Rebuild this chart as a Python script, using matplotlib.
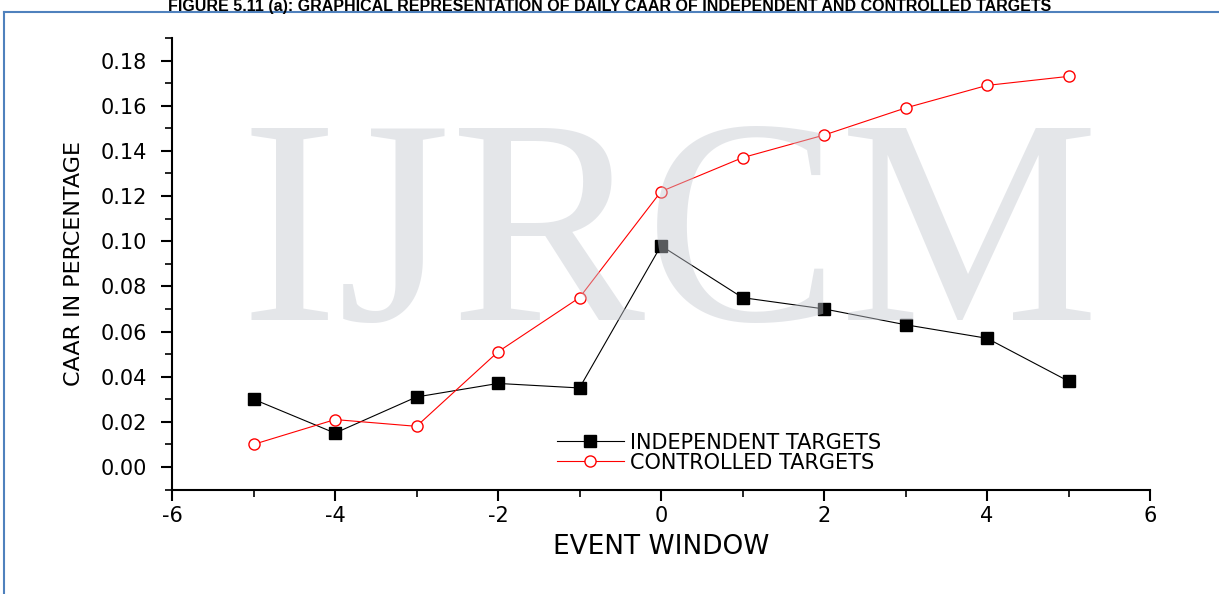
import matplotlib
matplotlib.use("Agg")
import matplotlib.pyplot as plt
from matplotlib.ticker import MultipleLocator, FuncFormatter
from matplotlib.lines import Line2D

event_window = [-5, -4, -3, -2, -1, 0, 1, 2, 3, 4, 5]
independent = [0.030, 0.015, 0.031, 0.037, 0.035, 0.098, 0.075, 0.070, 0.063, 0.057, 0.038]
controlled = [0.010, 0.021, 0.018, 0.051, 0.075, 0.122, 0.137, 0.147, 0.159, 0.169, 0.173]
x_ticks = [-6, -4, -2, 0, 2, 4, 6]
y_ticks = [0.00, 0.02, 0.04, 0.06, 0.08, 0.10, 0.12, 0.14, 0.16, 0.18]

plt.rcParams['font.family'] = ['DejaVu Sans']
plt.rcParams['axes.unicode_minus'] = False

fig = plt.figure(figsize=(12.19, 5.94), dpi=100)
fig.patch.set_facecolor('white')

# page frame (blue border) and title
fig.add_artist(Line2D([4/1219, 4/1219], [0, 1 - 12/594], color='#4f81bd', lw=1.5))
fig.add_artist(Line2D([4/1219, 1], [1 - 12/594, 1 - 12/594], color='#4f81bd', lw=1.5))
fig.text(0.5, 1 - 11/594, "FIGURE 5.11 (a): GRAPHICAL REPRESENTATION OF DAILY CAAR OF INDEPENDENT AND CONTROLLED TARGETS",
         ha='center', va='baseline', fontsize=11.5, fontweight='bold', family='Liberation Sans')

# faint watermark
fig.text(0.55, 0.58, "IJRCM", ha='center', va='center', fontsize=210, family='Liberation Serif',
         color='#c4c8d0', alpha=0.45, zorder=0)

ax = fig.add_axes([172/1219, 1 - 490/594, (1150 - 172)/1219, (490 - 38)/594])
ax.patch.set_alpha(0)
ax.plot(event_window, independent, color='black', lw=0.8, marker='s', markersize=8,
        markerfacecolor='black', markeredgecolor='black', label='INDEPENDENT TARGETS')
ax.plot(event_window, controlled, color='red', lw=0.8, marker='o', markersize=8,
        markerfacecolor='white', markeredgecolor='red', label='CONTROLLED TARGETS')

ax.set_xlim(-6, 6)
ax.set_ylim(-0.0102, 0.190)
ax.set_xticks(x_ticks)
ax.set_yticks(y_ticks)
ax.yaxis.set_major_formatter(FuncFormatter(lambda v, p: f"{v:.2f}"))
ax.xaxis.set_major_formatter(FuncFormatter(lambda v, p: f"{v:.0f}"))
ax.xaxis.set_minor_locator(MultipleLocator(1))
ax.yaxis.set_minor_locator(MultipleLocator(0.01))
for s in ['top', 'right']:
    ax.spines[s].set_visible(False)
for s in ['left', 'bottom']:
    ax.spines[s].set_linewidth(1.5)
ax.tick_params(which='major', direction='out', length=8, width=1.5, labelsize=15)
ax.tick_params(axis='y', which='major', pad=10)
ax.tick_params(which='minor', direction='out', length=5, width=1.2)
ax.set_xlabel("EVENT WINDOW", fontsize=19, labelpad=6)
ax.set_ylabel("CAAR IN PERCENTAGE", fontsize=16, labelpad=12)

ax.legend(loc='upper left', bbox_to_anchor=(0.383, 0.150), frameon=False, fontsize=15,
          handlelength=3.2, labelspacing=0.0, handletextpad=0.3, borderpad=0)

fig.savefig("out.png", dpi=100)
